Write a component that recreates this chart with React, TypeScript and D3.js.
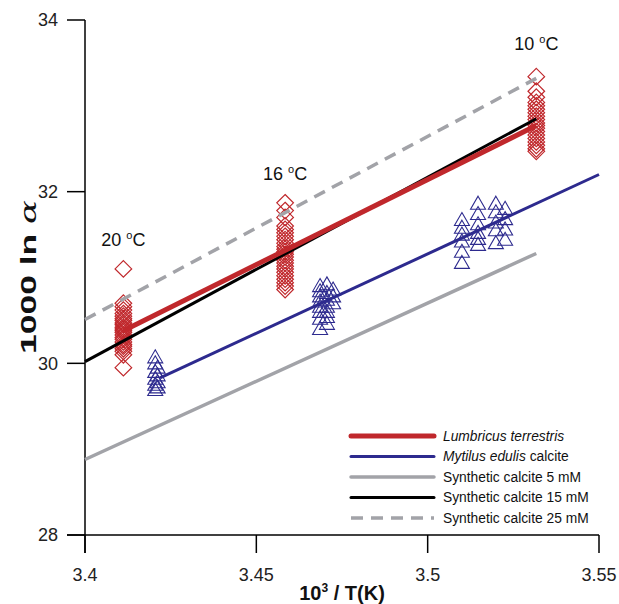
import React from "react";
import * as d3 from "d3";

// ---- axes ----
const xTicks = [3.4, 3.45, 3.5, 3.55];
const yTicks = [28, 30, 32, 34];
const xDomain = [3.4, 3.55];
const yDomain = [28, 34];

// ---- temperature labels ----
const tempLabels = ["20", "16", "10"];
const tempX = [3.4112, 3.4584, 3.5317];
const tempLabelY = [31.37, 32.14, 33.65];

// ---- Lumbricus terrestris (red diamonds) ----
const lumb20Y = [31.1, 30.7, 30.66, 30.62, 30.58, 30.55, 30.52, 30.5, 30.47, 30.45, 30.42, 30.4, 30.38, 30.36, 30.33, 30.3, 30.28, 30.25, 30.22, 30.2, 30.17, 30.14, 30.1, 29.95];
const lumb16Y = [31.87, 31.78, 31.7, 31.6, 31.56, 31.52, 31.48, 31.44, 31.4, 31.36, 31.33, 31.3, 31.27, 31.24, 31.2, 31.17, 31.13, 31.1, 31.06, 31.02, 30.98, 30.94, 30.9, 30.86];
const lumb10Y = [33.34, 33.17, 33.1, 33.04, 33.0, 32.96, 32.92, 32.88, 32.84, 32.8, 32.77, 32.74, 32.7, 32.66, 32.62, 32.58, 32.54, 32.5, 32.47];

// ---- Mytilus edulis calcite (blue triangles), [x, y] ----
const myt20X = [3.4205, 3.4205, 3.4212, 3.4205, 3.4212, 3.4205, 3.4212, 3.4205, 3.4212, 3.4205];
const myt20Y = [30.07, 30.0, 29.95, 29.9, 29.86, 29.82, 29.78, 29.75, 29.72, 29.69];
const myt16X = [3.4686, 3.4706, 3.4724, 3.4686, 3.4706, 3.4724, 3.4686, 3.4706, 3.4724, 3.4686, 3.4706, 3.4686, 3.4706, 3.4686, 3.4706, 3.4686, 3.4706, 3.4686];
const myt16Y = [30.9, 30.92, 30.86, 30.84, 30.82, 30.78, 30.78, 30.74, 30.7, 30.72, 30.66, 30.66, 30.6, 30.6, 30.54, 30.52, 30.46, 30.4];
const myt10X = [3.51, 3.51, 3.51, 3.51, 3.51, 3.51, 3.5147, 3.5147, 3.5147, 3.5147, 3.5147, 3.5147, 3.5199, 3.5199, 3.5199, 3.5199, 3.5199, 3.5226, 3.5226, 3.5226, 3.5226];
const myt10Y = [31.67, 31.58, 31.5, 31.42, 31.3, 31.17, 31.86, 31.74, 31.62, 31.52, 31.45, 31.38, 31.86, 31.76, 31.64, 31.55, 31.4, 31.8, 31.68, 31.56, 31.44];

// ---- regression / reference lines ----
const lumbLineX = [3.4112, 3.5317];
const lumbLineY = [30.38, 32.77];
const mytLineX = [3.4219, 3.55];
const mytLineY = [29.83, 32.2];
const syn5X = [3.4, 3.5317];
const syn5Y = [28.88, 31.28];
const syn15X = [3.4, 3.5317];
const syn15Y = [30.02, 32.85];
const syn25X = [3.4, 3.5317];
const syn25Y = [30.51, 33.32];

const RED = "#c0282c";
const BLUE = "#2d2a8e";
const GRAY = "#a2a3a8";
const FONT = "'Liberation Sans', Arial, Helvetica, sans-serif";

export default function App() {
  const W = 619, H = 604;
  const x = d3.scaleLinear().domain(xDomain).range([85, 599]);
  const y = d3.scaleLinear().domain(yDomain).range([535, 20]);
  const line = d3.line<[number, number]>().x(d => x(d[0])).y(d => y(d[1]));
  const pts = (xs: number[], ys: number[]) => xs.map((v, i) => [v, ys[i]] as [number, number]);

  const diamond = (cx: number, cy: number) => {
    const r = 8.3;
    return `M${cx},${cy - r}L${cx + r},${cy}L${cx},${cy + r}L${cx - r},${cy}Z`;
  };
  const tri = (cx: number, cy: number) =>
    `M${cx},${cy - 7.5}L${cx + 7.5},${cy + 5.5}L${cx - 7.5},${cy + 5.5}Z`;

  const lumbSets = [lumb20Y, lumb16Y, lumb10Y];
  const mytSets = [pts(myt20X, myt20Y), pts(myt16X, myt16Y), pts(myt10X, myt10Y)];

  const legend = [
    { color: RED, w: 5, dash: undefined, label: [["Lumbricus terrestris", true]] },
    { color: BLUE, w: 3, dash: undefined, label: [["Mytilus edulis", true], [" calcite", false]] },
    { color: GRAY, w: 3.5, dash: undefined, label: [["Synthetic calcite 5 mM", false]] },
    { color: "#000", w: 3, dash: undefined, label: [["Synthetic calcite 15 mM", false]] },
    { color: GRAY, w: 3.5, dash: "12,8", label: [["Synthetic calcite 25 mM", false]] },
  ] as { color: string; w: number; dash?: string; label: [string, boolean][] }[];

  return (
    <svg width={W} height={H} style={{ position: "absolute", left: 0, top: 0, background: "#fff" }} fontFamily={FONT}>
      <rect width={W} height={H} fill="#fff" />
      {/* axes */}
      <line x1={67} x2={x(3.55)} y1={535} y2={535} stroke="#000" strokeWidth={1.5} />
      <line x1={85} x2={85} y1={y(34)} y2={553} stroke="#000" strokeWidth={1.5} />
      {yTicks.map(t => (
        <g key={"yt" + t}>
          <line x1={67} x2={85} y1={y(t)} y2={y(t)} stroke="#000" strokeWidth={1.5} />
          <text x={58} y={y(t)} dy="0.36em" textAnchor="end" fontSize={18} fill="#222">{t}</text>
        </g>
      ))}
      {xTicks.map(t => (
        <g key={"xt" + t}>
          <line x1={x(t)} x2={x(t)} y1={535} y2={553} stroke="#000" strokeWidth={1.5} />
          <text x={x(t)} y={581} textAnchor="middle" fontSize={18} fill="#222">{t}</text>
        </g>
      ))}
      <text transform="translate(36,277) rotate(-90)" textAnchor="middle" fontSize={22} fontWeight="bold" fill="#111"
        textLength={154} lengthAdjust="spacingAndGlyphs">
        1000 ln <tspan fontStyle="italic" fontWeight="normal" fontFamily="'DejaVu Serif', serif">α</tspan>
      </text>
      <text x={342} y={600} textAnchor="middle" fontSize={20} fontWeight="bold" fill="#111">
        10<tspan fontSize={12} dy={-8}>3</tspan><tspan dy={8}> / T(K)</tspan>
      </text>

      {/* markers */}
      {lumbSets.map((ys, k) =>
        ys.map((v, i) => (
          <path key={`d${k}-${i}`} d={diamond(x(tempX[k]), y(v))} fill="none" stroke={RED} strokeWidth={1.2} />
        ))
      )}
      {mytSets.map((set, k) =>
        set.map((p, i) => (
          <path key={`t${k}-${i}`} d={tri(x(p[0]), y(p[1]))} fill="none" stroke={BLUE} strokeWidth={1.1} />
        ))
      )}

      {/* lines */}
      <path d={line(pts(syn5X, syn5Y)) || ""} stroke={GRAY} strokeWidth={3.5} fill="none" />
      <path d={line(pts(syn25X, syn25Y)) || ""} stroke={GRAY} strokeWidth={3.5} strokeDasharray="12,8" fill="none" />
      <path d={line(pts(syn15X, syn15Y)) || ""} stroke="#000" strokeWidth={3} fill="none" />
      <path d={line(pts(mytLineX, mytLineY)) || ""} stroke={BLUE} strokeWidth={3} fill="none" />
      <path d={line(pts(lumbLineX, lumbLineY)) || ""} stroke={RED} strokeWidth={5} fill="none" />

      {/* temperature labels */}
      {tempLabels.map((t, i) => (
        <text key={"tl" + i} x={x(tempX[i])} y={y(tempLabelY[i])} textAnchor="middle" fontSize={18} fill="#111">
          {t} <tspan fontSize={11} dy={-7}>o</tspan><tspan dy={7}>C</tspan>
        </text>
      ))}

      {/* legend */}
      {legend.map((l, i) => {
        const ly = 436 + i * 20.5;
        return (
          <g key={"lg" + i}>
            <line x1={351} x2={434} y1={ly} y2={ly} stroke={l.color} strokeWidth={l.w} strokeDasharray={l.dash} strokeLinecap={l.dash ? "butt" : "round"} />
            <text x={443} y={ly} dy="0.36em" fontSize={13.8} fill="#111">
              {l.label.map((s, j) => (
                <tspan key={j} fontStyle={s[1] ? "italic" : "normal"}>{s[0]}</tspan>
              ))}
            </text>
          </g>
        );
      })}
    </svg>
  );
}
